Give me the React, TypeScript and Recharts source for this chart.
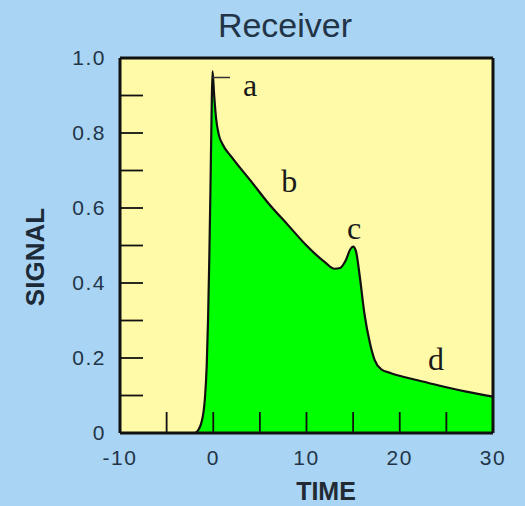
import React from 'react';
import { AreaChart, Area, XAxis, YAxis, CartesianGrid, ReferenceLine, ReferenceDot } from 'recharts';

// signal trace
const time = [-10, -3, -2, -1.6, -1.3, -1.05, -0.9, -0.7, -0.55, -0.42, -0.3, -0.18, -0.08, 0.1, 0.3, 0.6, 1, 2, 4, 6, 8, 10, 12, 13, 13.6, 14.2, 14.7, 15, 15.3, 15.7, 16.2, 16.8, 17.3, 18, 19, 21, 23, 25, 27, 30];
const signal = [0, 0, 0, 0.008, 0.025, 0.055, 0.09, 0.18, 0.31, 0.47, 0.65, 0.85, 0.965, 0.9, 0.84, 0.795, 0.77, 0.735, 0.673, 0.61, 0.555, 0.5, 0.455, 0.438, 0.44, 0.46, 0.49, 0.497, 0.485, 0.42, 0.32, 0.24, 0.195, 0.17, 0.16, 0.146, 0.134, 0.122, 0.111, 0.097];

const xTicks = [-10, -5, 0, 5, 10, 15, 20, 25, 30];
const yTicks = [0, 0.1, 0.2, 0.3, 0.4, 0.5, 0.6, 0.7, 0.8, 0.9, 1.0];

// letters marking parts of the curve
const marks = [
  { name: 'a', time: 3.95, signal: 0.93 },
  { name: 'b', time: 8.15, signal: 0.673 },
  { name: 'c', time: 15.1, signal: 0.548 },
  { name: 'd', time: 23.9, signal: 0.197 },
];

const data = time.map((t, i) => ({ time: t, signal: signal[i] }));

const textColor = '#223548';
const tickFont = { fontFamily: 'Liberation Sans, Arial, sans-serif', fontSize: 21, letterSpacing: 1.5, fill: textColor };

const XTick = (props: any) => {
  const { x, y, payload } = props;
  const v = payload.value;
  return (
    <g>
      <line x1={x} x2={x} y1={y} y2={y - 21} stroke="#111" strokeWidth={1.8} />
      {v % 10 === 0 && (
        <text x={x} y={y + 32} textAnchor="middle" {...tickFont}>
          {v}
        </text>
      )}
    </g>
  );
};

const YTick = (props: any) => {
  const { x, y, payload, index } = props;
  const v = payload.value;
  return (
    <g>
      <line x1={x} x2={x + 23} y1={y} y2={y} stroke="#111" strokeWidth={1.8} />
      {index % 2 === 0 && (
        <text x={x - 14} y={y + 7} textAnchor="end" {...tickFont}>
          {v === 0 ? '0' : v.toFixed(1)}
        </text>
      )}
    </g>
  );
};

const App: React.FC = () => {
  return (
    <div style={{ position: 'fixed', left: 0, top: 0, width: 525, height: 506, background: '#a9d4f3', overflow: 'hidden' }}>
      <div
        style={{
          position: 'absolute', left: 185, top: 8, width: 200, textAlign: 'center',
          fontFamily: 'Liberation Sans, Arial, sans-serif', fontSize: 34, lineHeight: '34px', color: textColor,
        }}
      >
        Receiver
      </div>
      <AreaChart width={525} height={506} data={data} margin={{ top: 58, right: 32, bottom: 43, left: 80 }}>
        <CartesianGrid horizontal={false} vertical={false} fill="#fffaa8" fillOpacity={1} />
        <XAxis
          dataKey="time"
          type="number"
          domain={[-10, 30]}
          ticks={xTicks}
          interval={0}
          height={30}
          tickSize={0}
          tickMargin={0}
          tickLine={false}
          axisLine={{ stroke: '#111', strokeWidth: 3 }}
          tick={<XTick />}
        />
        <YAxis
          type="number"
          domain={[0, 1]}
          ticks={yTicks}
          interval={0}
          width={40}
          tickSize={0}
          tickMargin={0}
          tickLine={false}
          axisLine={{ stroke: '#111', strokeWidth: 3 }}
          tick={<YTick />}
        />
        <Area
          type="monotone"
          dataKey="signal"
          stroke="#111"
          strokeWidth={2.2}
          fill="#00ff00"
          fillOpacity={1}
          dot={false}
          activeDot={false}
          isAnimationActive={false}
        />
        <ReferenceLine y={1} stroke="#111" strokeWidth={3} />
        <ReferenceLine x={30} stroke="#111" strokeWidth={3} />
        <ReferenceLine segment={[{ x: -0.1, y: 0.948 }, { x: 1.8, y: 0.948 }]} stroke="#333" strokeWidth={1.5} />
        {marks.map((m) => (
          <ReferenceDot
            key={m.name}
            x={m.time}
            y={m.signal}
            r={0}
            fill="none"
            stroke="none"
            label={{ value: m.name, position: 'center', fontFamily: 'Liberation Serif, Times New Roman, serif', fontSize: 32, fill: '#1a1a1a' }}
          />
        ))}
      </AreaChart>
      <div
        style={{
          position: 'absolute', left: 226, top: 479, width: 200, textAlign: 'center',
          fontFamily: 'Liberation Sans, Arial, sans-serif', fontWeight: 'bold', fontSize: 25, lineHeight: '25px', color: '#222b33',
        }}
      >
        TIME
      </div>
      <div
        style={{
          position: 'absolute', left: -65, top: 244, width: 200, height: 26, textAlign: 'center',
          transform: 'rotate(-90deg)',
          fontFamily: 'Liberation Sans, Arial, sans-serif', fontWeight: 'bold', fontSize: 26, lineHeight: '26px', color: '#1c2a38',
        }}
      >
        SIGNAL
      </div>
    </div>
  );
};

export default App;
